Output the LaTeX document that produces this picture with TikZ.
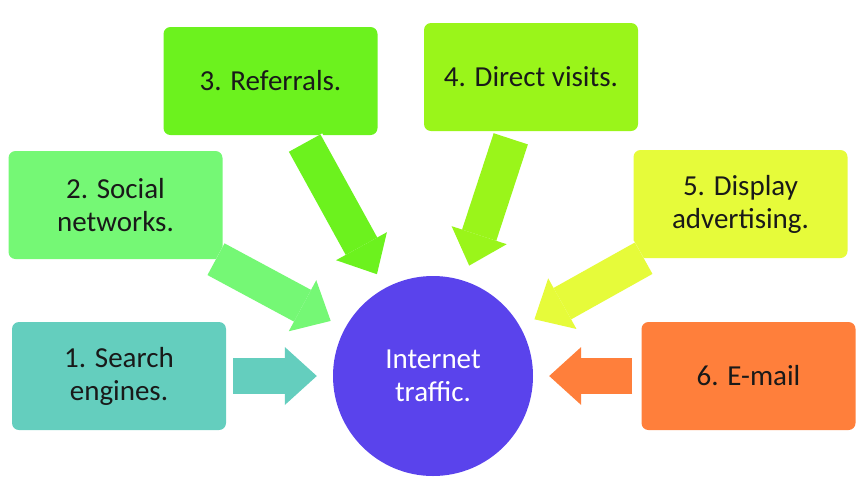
\documentclass[tikz,border=0pt]{standalone}
\usepackage{fontspec}
\setmainfont{Carlito}
\usetikzlibrary{arrows.meta}
\definecolor{cSearch}{RGB}{100,206,190}
\definecolor{cSocial}{RGB}{117,248,117}
\definecolor{cRefer}{RGB}{108,242,30}
\definecolor{cDirect}{RGB}{154,245,26}
\definecolor{cDisplay}{RGB}{230,251,58}
\definecolor{cMail}{RGB}{255,127,59}
\definecolor{cNet}{RGB}{90,67,236}
\begin{document}
\begin{tikzpicture}[x=1pt,y=-1pt,
  src/.style={fill=#1,rounded corners=7pt,minimum width=214pt,minimum height=108pt,align=center,text=black!90,font=\fontsize{29}{33}\selectfont},
  feed/.style={draw=#1,line width=36pt,-{Triangle[length=32pt,width=58pt,line width=0pt]},shorten >=16pt,
    preaction={draw=white,line width=40pt,-{Triangle[length=36pt,width=64pt,line width=0pt]}}}]
\useasboundingbox (0,0) rectangle (860,491);
% sources
\node[src=cSearch] (search) at (119,376) {1. Search\\engines.};
\node[src=cSocial] (social) at (115.5,205) {2. Social\\networks.};
\node[src=cRefer] (refer) at (270.5,81) {3. Referrals.};
\node[src=cDirect] (direct) at (531,77) {4. Direct visits.};
\node[src=cDisplay] (display) at (740.5,204) {5. Display\\advertising.};
\node[src=cMail] (mail) at (748.5,376) {6. E-mail};
% centre
\node[circle,fill=cNet,minimum size=200pt,inner sep=0pt,align=center,text=white,font=\fontsize{29}{33}\selectfont] (net) at (433,376) {Internet\\traffic.};
% arrows
\draw[feed=cSearch,shorten <=7pt] (search) -- (net);
\draw[feed=cSocial] (social) -- (net);
\draw[feed=cRefer,shorten <=9pt] (refer) -- (net);
\draw[feed=cDirect,shorten <=8pt] (direct) -- (net);
\draw[feed=cDisplay] (display) -- (net);
\draw[feed=cMail,shorten <=9pt] (mail) -- (net);
\end{tikzpicture}
\end{document}
